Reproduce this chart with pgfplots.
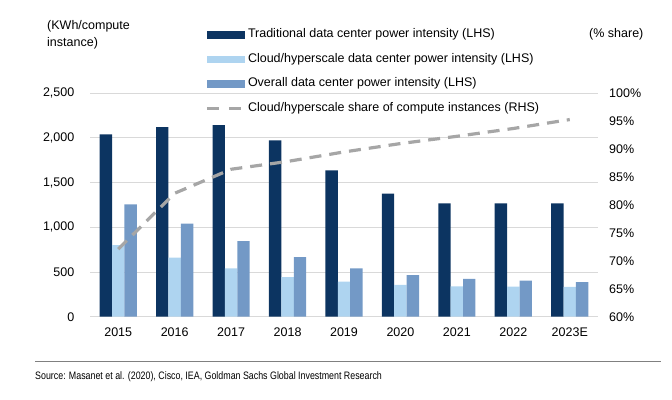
\documentclass[border=0pt]{standalone}
\usepackage{pgfplots}
\usepackage{pgfplotstable}
\pgfplotsset{compat=1.18}
\usepackage{fontspec}
\setmainfont{Liberation Sans}
\newfontfamily\narrowfont[FakeStretch=0.82]{Liberation Sans}
\definecolor{trad}{HTML}{0C3461}
\definecolor{cloud}{HTML}{AED4F0}
\definecolor{overall}{HTML}{7399C6}
\definecolor{shareline}{HTML}{A6A6A6}
\definecolor{gridc}{HTML}{D9D9D9}
\definecolor{rulec}{HTML}{808080}

\pgfplotstableread{
x trad cloud overall
0 2040 800 1258
1 2122 660 1041
2 2145 541 847
3 1974 444 668
4 1638 392 541
5 1376 355 466
6 1269 340 422
7 1269 336 403
8 1269 333 388
}\barsdata

\pgfplotstableread{
x share
0 72.1
1 82.1
2 86.4
3 87.8
4 89.5
5 91.0
6 92.3
7 93.7
8 95.3
}\sharedata

\begin{document}
\fontsize{12.5}{15}\selectfont
\begin{tikzpicture}[x=1pt,y=1pt]
\path[use as bounding box] (0pt,0pt) rectangle (672pt,399pt);
\pgfplotsset{
  common/.style={
    at={(90pt,82.3pt)}, anchor=south west, scale only axis,
    width=508pt, height=223.4pt,
    xmin=-0.5, xmax=8.5,
    axis line style={draw=none},
    major tick length=0pt,
    tick label style={font=\fontsize{12.5}{15}\selectfont, inner sep=0pt},
    /pgf/number format/assume math mode=true,
  }
}
\begin{axis}[common,
  ymin=0, ymax=2500, ytick={0,500,...,2500},
  ymajorgrids, grid style={gridc, line width=1pt},
  yticklabel style={anchor=east, /pgf/number format/1000 sep={,}},
  yticklabel shift=15.5pt,
  xtick={0,...,8},
  xticklabels={2015,2016,2017,2018,2019,2020,2021,2022,2023E},
  xticklabel style={anchor=north},
  xticklabel shift=10.5pt,
  ybar=0pt, bar width=12.4pt,
]
\addplot[fill=trad, draw=none] table[x=x,y=trad]{\barsdata};
\addplot[fill=cloud, draw=none] table[x=x,y=cloud]{\barsdata};
\addplot[fill=overall, draw=none] table[x=x,y=overall]{\barsdata};
\end{axis}
\begin{axis}[common,
  ymin=60, ymax=100, ytick={60,65,...,100},
  axis y line*=right,
  xtick=\empty,
  yticklabel={\pgfmathprintnumber{\tick}\%},
  yticklabel style={anchor=west},
  yticklabel shift=11pt,
  legend cell align=left,
  legend style={at={(0.2264,1.2914)}, anchor=north west, draw=none, fill=none,
    inner sep=0pt, row sep=12.7pt,
    nodes={inner sep=0pt, text height=9pt, text depth=3pt},
    font=\fontsize{12.5}{15}\selectfont,
    /tikz/every odd column/.append style={column sep=4pt}},
]
\addlegendimage{legend image code/.code={\fill[trad] (0pt,-3.4pt) rectangle (37pt,3.4pt);}}
\addlegendentry{Traditional data center power intensity (LHS)}
\addlegendimage{legend image code/.code={\fill[cloud] (0pt,-3.4pt) rectangle (37pt,3.4pt);}}
\addlegendentry{Cloud/hyperscale data center power intensity (LHS)}
\addlegendimage{legend image code/.code={\fill[overall] (0pt,-3.4pt) rectangle (37pt,3.4pt);}}
\addlegendentry{Overall data center power intensity (LHS)}
\addplot[shareline, line width=3.2pt, dash pattern=on 12pt off 8pt,
  legend image code/.code={\draw[shareline, line width=3.2pt, dash pattern=on 12pt off 10pt] (0pt,0pt) -- (34pt,0pt);}]
  table[x=x,y=share]{\sharedata};
\addlegendentry{Cloud/hyperscale share of compute instances (RHS)}
\end{axis}
\node[anchor=base west, inner sep=0pt] at (47pt,369.5pt) {(KWh/compute};
\node[anchor=base west, inner sep=0pt] at (47pt,352.5pt) {instance)};
\node[anchor=base west, inner sep=0pt] at (589pt,361.8pt) {(\% share)};
\draw[rulec, line width=1pt] (35pt,37.3pt) -- (661pt,37.3pt);
\node[anchor=base west, inner sep=0pt] at (35pt,19.6pt) {\narrowfont\fontsize{10.8}{12}\selectfont Source: Masanet et al. (2020), Cisco, IEA, Goldman Sachs Global Investment Research};
\end{tikzpicture}
\end{document}
